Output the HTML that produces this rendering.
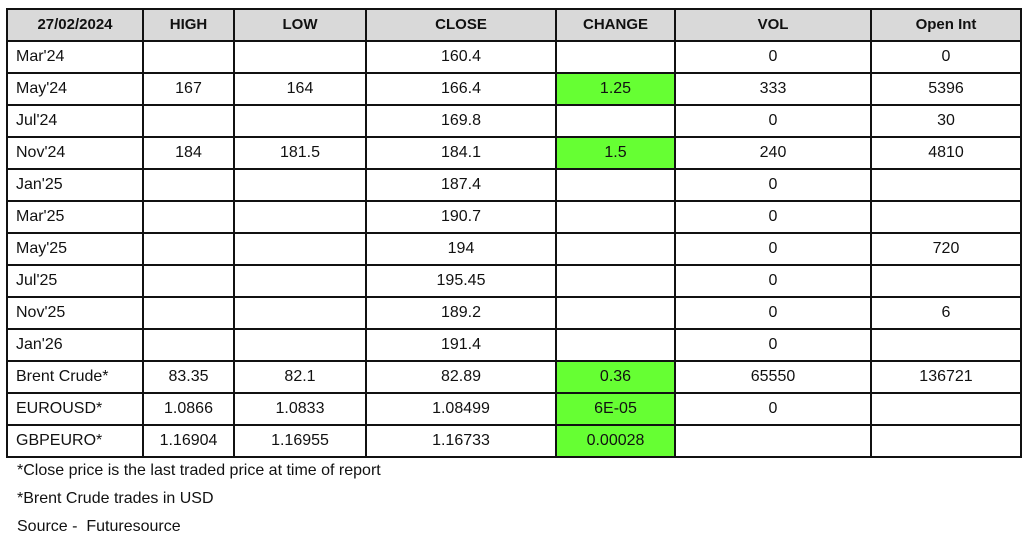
<!DOCTYPE html>
<html><head><style>
body{margin:0;width:1024px;height:541px;background:#fff;position:relative;font-family:"Liberation Sans",sans-serif;overflow:hidden}
table{position:absolute;left:6px;top:8px;border-collapse:collapse;table-layout:fixed}
td{border:2px solid #111;height:30px;padding:0;font-size:16px;color:#111;text-align:center;line-height:30px;white-space:nowrap;overflow:hidden}
td:first-child{text-align:left;padding-left:8px}
tr.h td{background:#d9d9d9;font-weight:bold;font-size:15px;text-align:center;padding-left:0}
td.g{background:#66ff33}
.n{position:absolute;left:17px;font-size:16px;color:#111}
</style></head><body>
<table>
<colgroup><col style="width:136px"><col style="width:91px"><col style="width:132px"><col style="width:190px"><col style="width:119px"><col style="width:196px"><col style="width:150px"></colgroup>
<tr class="h"><td>27/02/2024</td><td>HIGH</td><td>LOW</td><td>CLOSE</td><td>CHANGE</td><td>VOL</td><td>Open Int</td></tr>
<tr><td>Mar'24</td><td></td><td></td><td>160.4</td><td></td><td>0</td><td>0</td></tr>
<tr><td>May'24</td><td>167</td><td>164</td><td>166.4</td><td class="g">1.25</td><td>333</td><td>5396</td></tr>
<tr><td>Jul'24</td><td></td><td></td><td>169.8</td><td></td><td>0</td><td>30</td></tr>
<tr><td>Nov'24</td><td>184</td><td>181.5</td><td>184.1</td><td class="g">1.5</td><td>240</td><td>4810</td></tr>
<tr><td>Jan'25</td><td></td><td></td><td>187.4</td><td></td><td>0</td><td></td></tr>
<tr><td>Mar'25</td><td></td><td></td><td>190.7</td><td></td><td>0</td><td></td></tr>
<tr><td>May'25</td><td></td><td></td><td>194</td><td></td><td>0</td><td>720</td></tr>
<tr><td>Jul'25</td><td></td><td></td><td>195.45</td><td></td><td>0</td><td></td></tr>
<tr><td>Nov'25</td><td></td><td></td><td>189.2</td><td></td><td>0</td><td>6</td></tr>
<tr><td>Jan'26</td><td></td><td></td><td>191.4</td><td></td><td>0</td><td></td></tr>
<tr><td>Brent Crude*</td><td>83.35</td><td>82.1</td><td>82.89</td><td class="g">0.36</td><td>65550</td><td>136721</td></tr>
<tr><td>EUROUSD*</td><td>1.0866</td><td>1.0833</td><td>1.08499</td><td class="g">6E-05</td><td>0</td><td></td></tr>
<tr><td>GBPEURO*</td><td>1.16904</td><td>1.16955</td><td>1.16733</td><td class="g">0.00028</td><td></td><td></td></tr>
</table>
<div class="n" style="top:462px">*Close price is the last traded price at time of report</div>
<div class="n" style="top:490px">*Brent Crude trades in USD</div>
<div class="n" style="top:518px">Source -&nbsp; Futuresource</div>
</body></html>
